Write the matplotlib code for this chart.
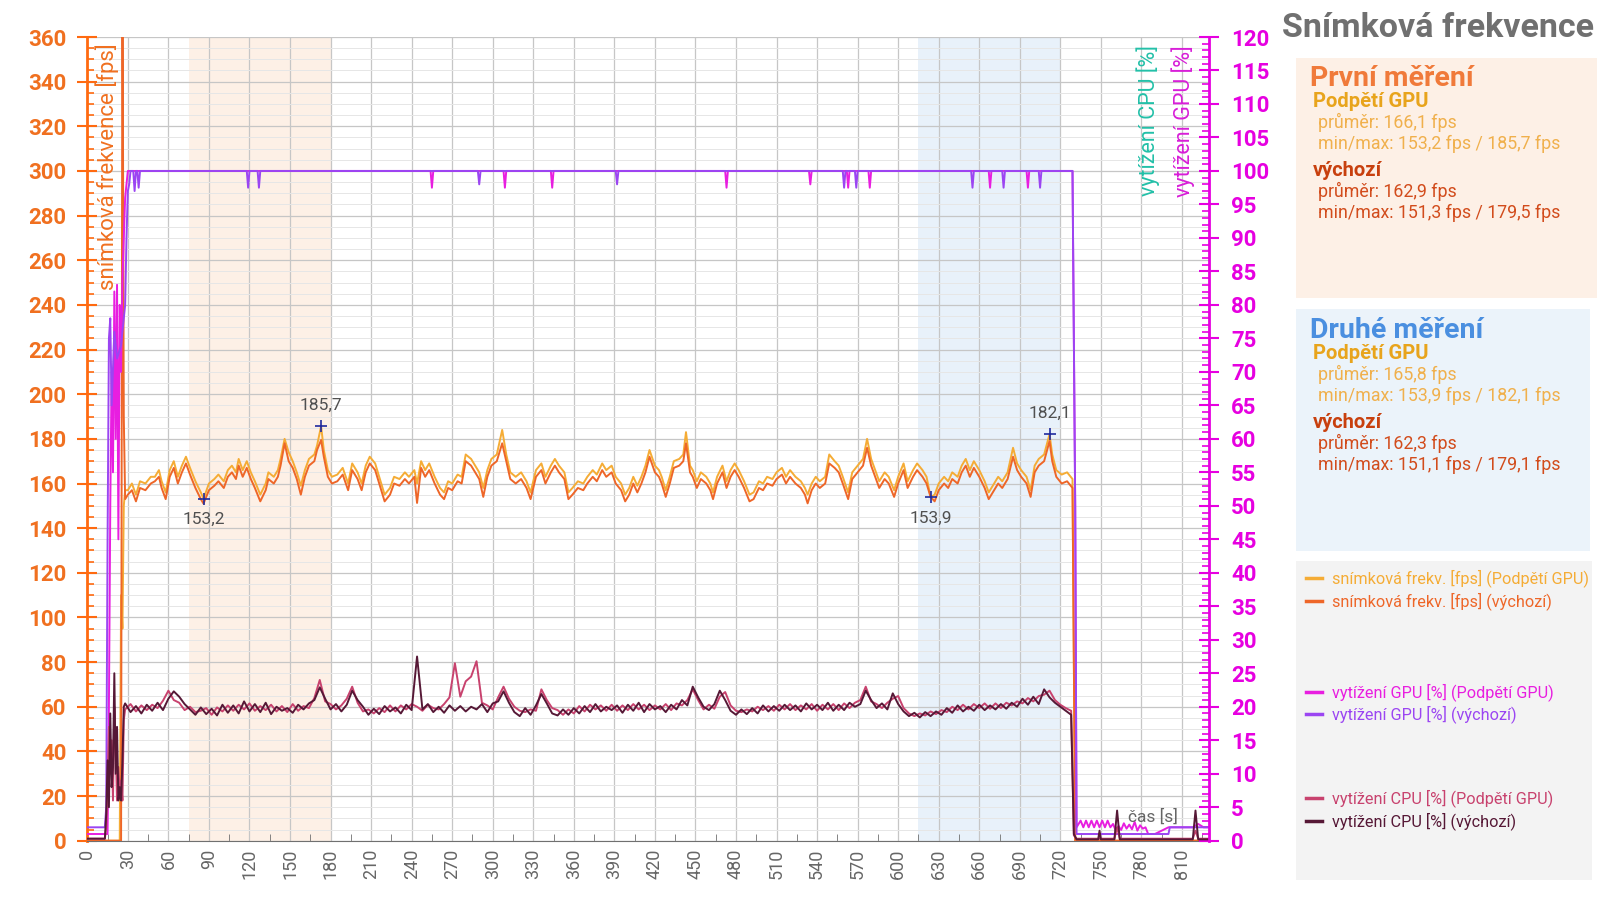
import matplotlib
matplotlib.use('Agg')
import matplotlib.pyplot as plt
import numpy as np
from matplotlib.patches import Rectangle
from matplotlib.lines import Line2D
from matplotlib.ticker import MultipleLocator

plt.rcParams['font.family'] = ['Roboto', 'DejaVu Sans']

W, H = 1600, 922

# --- frame rate [fps], time in seconds ---
t_fps = [0, 10, 20, 24, 25, 26, 27, 28,
         30, 33, 36, 39, 43, 47, 50, 53, 55, 58, 61, 64, 67, 70, 73, 76, 80, 84, 86, 90,
         94, 97, 101, 104, 107, 110, 112, 115, 118, 121, 124, 128, 132, 134, 138,
         141, 143, 146, 149, 152, 155, 158, 161, 164, 168, 170, 173, 175, 178, 181, 185,
         189, 193, 196, 200, 203, 206, 209, 213, 216, 220, 224, 227, 231, 235, 238,
         242, 244, 247, 250, 253, 257, 261, 264, 267, 270, 274, 277, 280, 284, 287,
         290, 293, 296, 299, 303, 307, 310, 313, 317, 321, 325, 328, 332, 336, 339,
         343, 346, 349, 353, 356, 359, 363, 367, 370,
         374, 377, 381, 384, 388, 391, 395, 398, 401, 404, 407, 410, 413, 416, 420,
         423, 425, 428, 431, 434, 438, 441, 443, 446, 448, 451, 454, 458, 461, 463,
         466, 470, 473, 476, 479, 482, 486, 490, 493, 497, 500, 503, 507, 510, 514,
         517, 520, 524, 528, 531, 533, 536, 539, 542, 546, 549, 553, 556,
         559, 563, 566, 570, 574, 577, 580, 583, 586, 590, 593, 597, 600, 604, 607,
         611, 614, 618, 621, 624, 627, 630, 634, 637, 640, 644, 647, 650, 653, 656,
         660, 664, 667, 671, 674, 677, 681, 685, 688, 691, 695, 698, 701, 704, 708,
         712, 714, 717, 721, 725, 729, 731, 740, 830]

fps_vychozi = [0, 0, 0, 0, 0, 400, 190, 153,
               155, 157, 152, 158, 157, 160, 161, 163, 158, 153, 163, 167, 160, 165, 169, 164, 158, 153, 151, 157,
               159, 161, 158, 163, 165, 162, 168, 163, 167, 162, 158, 152, 157, 162, 160,
               163, 168, 178, 170, 167, 162, 155, 163, 168, 170, 175, 179.5, 172, 163, 160, 161,
               164, 157, 166, 162, 157, 165, 169, 166, 160, 152, 155, 160, 159, 162, 160,
               163, 151.3, 167, 163, 166, 160, 155, 153, 158, 157, 161, 160, 170, 168, 165,
               162, 154, 163, 168, 170, 178, 170, 162, 160, 162, 158, 153, 163, 166, 160,
               165, 168, 165, 162, 153, 155, 158, 157, 160,
               163, 161, 166, 163, 165, 160, 157, 152, 155, 160, 156, 160, 165, 172, 165,
               163, 160, 154, 160, 167, 168, 170, 178, 165, 163, 158, 162, 160, 157, 153,
               160, 165, 158, 163, 166, 163, 158, 152, 153, 158, 157, 160, 159, 162, 164,
               160, 163, 160, 158, 155, 151.1, 157, 160, 158, 160, 169, 167, 165,
               160, 153, 162, 165, 168, 176, 168, 163, 158, 162, 160, 154, 160, 166, 158,
               163, 166, 163, 160, 154, 152, 157, 160, 158, 162, 160, 165, 168, 163, 167,
               163, 158, 153, 157, 160, 158, 162, 172, 166, 163, 160, 154, 165, 168, 170,
               179, 170, 163, 160, 161, 158, 0, 0, 0]

fps_podpeti = [0, 0, 0, 0, 110, 95, 150, 157,
               157, 160, 155, 161, 160, 163, 163, 166, 161, 156, 166, 170, 163, 168, 172, 167, 161, 156, 153.2, 160,
               162, 164, 161, 166, 168, 165, 171, 166, 170, 165, 161, 155, 160, 165, 163,
               166, 171, 180, 174, 170, 165, 159, 166, 171, 173, 177, 185.7, 175, 166, 163, 164,
               167, 160, 169, 165, 160, 168, 172, 169, 163, 155, 158, 163, 162, 165, 163,
               166, 160, 170, 166, 169, 163, 158, 156, 161, 160, 164, 163, 173, 171, 168,
               165, 158, 166, 171, 173, 184, 173, 165, 163, 165, 161, 156, 166, 169, 163,
               168, 171, 168, 165, 156, 158, 161, 160, 163,
               166, 164, 169, 166, 168, 163, 160, 155, 158, 163, 159, 163, 168, 175, 168,
               166, 163, 157, 163, 170, 171, 173, 183, 168, 166, 161, 165, 163, 160, 156,
               163, 168, 161, 166, 169, 166, 161, 155, 156, 161, 160, 163, 162, 165, 167,
               163, 166, 163, 161, 158, 155, 160, 163, 161, 163, 173, 170, 168,
               163, 156, 165, 168, 171, 180, 171, 166, 161, 165, 163, 157, 163, 169, 161,
               166, 169, 166, 163, 153.9, 155, 160, 163, 161, 165, 163, 168, 171, 166, 170,
               166, 161, 156, 160, 163, 161, 165, 176, 169, 166, 163, 157, 168, 171, 173,
               182.1, 173, 166, 164, 165, 162, 0, 0, 0]

# --- GPU load [%] ---
t_gpu_vychozi = [0, 13, 14, 15, 16, 17, 18, 20, 22, 25, 28, 29, 30, 31, 32, 34, 35, 36, 37, 38,
                 39, 118, 119, 120, 126, 127, 128, 289, 290, 291, 391, 392, 393, 559, 560,
                 561, 568, 569, 570, 654, 655, 656, 677, 678, 679, 704, 705, 706, 729, 731,
                 732, 800, 801, 830]
gpu_vychozi = [2, 2, 5, 45, 75, 78, 65, 76, 72, 74, 80, 90, 97, 98, 100, 100, 97, 100, 100, 97.5,
               100, 100, 97.5, 100, 100, 97.5, 100, 100, 98, 100, 100, 98, 100, 100, 97.5,
               100, 100, 97.5, 100, 100, 97.5, 100, 100, 97.5, 100, 100, 97.5, 100, 100, 50,
               1, 1, 2, 2]

t_gpu_podpeti = [0, 15, 16, 17, 18, 19, 20, 21, 22, 23, 24, 25, 26, 27, 28, 29, 30,
                 254, 255, 256, 308, 309, 310, 343, 344, 345, 472, 473, 474, 534, 535, 536,
                 562, 563, 564, 578, 579, 580, 667, 668, 669, 695, 696, 697, 729, 731, 732,
                 735, 737, 739, 741, 743, 745, 747, 749, 751, 753, 755, 757, 759, 761, 763,
                 765, 767, 769, 771, 773, 775, 777, 779, 781, 783, 785, 790, 800, 805, 812,
                 818, 822, 826, 830]
gpu_podpeti = [1, 1, 20, 50, 70, 55, 82, 60, 83, 45, 80, 70, 84, 90, 96, 98, 100,
               100, 97.5, 100, 100, 97.5, 100, 100, 97.5, 100, 100, 97.5, 100, 100, 98, 100,
               100, 97.5, 100, 100, 97.5, 100, 100, 97.5, 100, 100, 97.5, 100, 100, 50, 2,
               3, 2, 3, 2, 3, 2, 3, 2, 3, 2, 3, 2, 2.5, 1.5, 2.2,
               1.6, 2.6, 1.8, 2.4, 1.7, 2.8, 1.5, 2.3, 1.8, 2.0, 1.0, 1.0, 2.0, 2.0, 2.0,
               2.0, 2.5, 2.0, 2.0]

# --- CPU load [%] ---
t_cpu_head = [0, 13, 14, 15, 16, 17, 18, 19, 20, 21, 22, 23, 24, 25, 26, 27]
cpu_vychozi_head = [0.3, 0.3, 4, 12, 5, 19, 8, 11, 25, 10, 17, 6, 8, 6, 12, 20]
cpu_podpeti_head = [0.3, 0.3, 2, 8, 17, 10, 15, 6, 20, 14, 6, 11, 7, 9, 6, 18]

t_cpu_run = np.arange(28, 729, 4)  # one reading every 4 s
cpu_vychozi_run = [
    20.5, 19.2, 20.1, 19.0, 20.3, 19.4, 20.6, 19.5, 21.2, 22.3,
    21.5, 20.4, 19.6, 18.8, 19.9, 18.9, 19.7, 18.7, 20.3, 19.1,
    20.2, 19.0, 20.8, 19.3, 20.4, 19.2, 20.6, 18.9, 20.0, 19.4,
    19.8, 19.1, 20.3, 19.6, 20.5, 21.0, 22.9, 21.2, 19.6, 20.4,
    19.3, 20.3, 22.4, 21.0, 20.0, 18.8, 19.7, 18.9, 20.1, 19.3,
    19.9, 19.0, 20.3, 19.5, 27.5, 19.6, 20.4, 19.2, 20.0, 19.1,
    20.2, 19.4, 20.1, 19.3, 20.0, 19.6, 20.4, 19.2, 20.5, 20.8,
    22.3, 20.6, 19.2, 18.6, 19.8, 18.8, 20.2, 21.9, 20.5, 19.0,
    18.7, 19.6, 18.8, 19.8, 19.0, 20.1, 19.2, 20.4, 19.3, 20.0,
    19.5, 20.2, 19.1, 20.3, 19.4, 20.6, 19.2, 20.4, 19.6, 20.1,
    19.2, 20.3, 19.6, 21.0, 20.2, 23.0, 21.4, 20.0, 19.5, 20.4,
    22.4, 21.0, 19.4, 18.8, 19.6, 18.9, 19.8, 19.0, 20.2, 19.3,
    20.1, 19.4, 20.3, 19.5, 20.2, 19.3, 20.5, 19.6, 20.3, 19.5,
    20.6, 19.4, 20.3, 19.5, 20.6, 20.0, 20.4, 22.4, 21.0, 19.8,
    20.5, 19.6, 22.0, 20.4, 19.3, 18.6, 19.1, 18.4, 19.2, 18.6,
    19.3, 18.8, 19.8, 19.1, 20.2, 19.3, 20.0, 19.4, 20.3, 19.5,
    20.2, 19.6, 20.4, 19.7, 20.6, 20.0, 21.2, 20.3, 21.5, 20.4,
    22.6, 21.4, 20.6, 20.0, 19.4, 18.8]
cpu_podpeti_run = [
    19.6, 20.4, 19.3, 20.2, 19.5, 20.3, 19.8, 20.9, 22.4, 21.0,
    20.6, 19.5, 20.0, 19.2, 19.4, 19.8, 18.8, 19.9, 19.3, 20.2,
    19.4, 20.3, 19.6, 20.5, 19.4, 20.1, 19.5, 20.3, 19.3, 20.1,
    19.2, 20.4, 19.4, 20.1, 19.8, 21.3, 24.0, 20.8, 20.4, 19.6,
    20.2, 21.2, 23.0, 20.6, 19.3, 19.6, 19.0, 19.8, 19.2, 20.2,
    19.3, 20.2, 19.6, 20.4, 20.0, 19.4, 20.3, 19.8, 19.6, 20.4,
    21.4, 26.5, 21.5, 23.8, 24.5, 26.8, 20.6, 20.2, 19.6, 21.4,
    23.0, 21.2, 20.0, 19.4, 19.2, 19.6, 19.4, 22.6, 21.0, 19.8,
    19.5, 18.8, 19.6, 19.0, 20.1, 19.3, 20.3, 19.6, 20.2, 19.4,
    20.3, 19.4, 20.2, 19.5, 20.4, 19.6, 20.3, 19.5, 20.2, 19.6,
    20.4, 19.5, 20.5, 20.2, 21.0, 22.6, 21.0, 19.6, 20.3, 19.7,
    21.5, 22.2, 20.2, 19.4, 19.2, 19.6, 19.3, 20.0, 19.5, 20.1,
    19.4, 20.3, 19.6, 20.4, 19.5, 20.2, 19.6, 20.4, 19.4, 20.3,
    19.6, 20.4, 19.5, 20.5, 19.8, 20.6, 21.0, 23.0, 20.8, 20.4,
    19.8, 20.6, 21.2, 21.6, 19.8, 19.0, 18.6, 19.0, 18.7, 19.3,
    18.9, 19.5, 19.2, 20.0, 19.5, 20.3, 19.6, 20.4, 19.8, 20.5,
    19.7, 20.5, 19.8, 20.6, 20.2, 20.8, 20.5, 21.3, 20.8, 21.6,
    21.8, 22.4, 21.0, 20.3, 19.8, 19.4]

t_cpu_tail = [730, 732, 748, 749, 750, 760, 762, 764, 818, 820, 822, 830]
cpu_vychozi_tail = [1.0, 0.2, 0.2, 1.5, 0.2, 0.2, 4.5, 0.2, 0.2, 4.5, 0.2, 0.2]
cpu_podpeti_tail = [0.8, 0.3, 0.3, 0.3, 0.3, 0.3, 2.0, 0.3, 0.3, 1.5, 0.3, 0.3]

# min / max marks (time, fps, label)
marks = [(86, 153.2, '153,2', -1), (173, 185.7, '185,7', 1),
         (624, 153.9, '153,9', -1), (712, 182.1, '182,1', 1)]

C_FPS_P = '#f5ac35'
C_FPS_V = '#ee6628'
C_GPU_P = '#e81ee0'
C_GPU_V = '#9b45f2'
C_CPU_P = '#c8426e'
C_CPU_V = '#561836'
C_LEFT = '#ff6a10'
C_RIGHT = '#e600e0'


def px(x, y):
    return x / W, 1 - y / H


def main():
    fig = plt.figure(figsize=(16, 9.22), dpi=100)
    x0, x1, y0, y1 = 87.3, 1209, 37, 840.7
    ax = fig.add_axes([x0 / W, 1 - y1 / H, (x1 - x0) / W, (y1 - y0) / H])
    ax2 = ax.twinx()

    ax.axvspan(75, 180, color='#fdf0e6', zorder=0, lw=0)
    ax.axvspan(615, 720, color='#e8f1fa', zorder=0, lw=0)

    ax.set_xlim(0, 830)
    ax.set_ylim(0, 360)
    ax2.set_ylim(0, 120)

    ax.set_axisbelow(True)
    ax.xaxis.set_major_locator(MultipleLocator(30))
    ax.xaxis.set_minor_locator(MultipleLocator(15))
    ax.yaxis.set_major_locator(MultipleLocator(20))
    ax.yaxis.set_minor_locator(MultipleLocator(5))
    ax.grid(which='major', axis='both', color='#c6c6c6', lw=0.9)
    ax.grid(which='minor', axis='y', color='#e6e6e6', lw=0.7)
    ax.set_xticks(np.arange(0, 811, 30))

    # fps
    ax.plot(t_fps, fps_podpeti, color=C_FPS_P, lw=1.4, zorder=3)
    ax.plot(t_fps, fps_vychozi, color=C_FPS_V, lw=1.4, zorder=3)

    # load
    t_cpu = np.concatenate([t_cpu_head, t_cpu_run, t_cpu_tail])
    cpu_v = np.concatenate([cpu_vychozi_head, cpu_vychozi_run, cpu_vychozi_tail])
    cpu_p = np.concatenate([cpu_podpeti_head, cpu_podpeti_run, cpu_podpeti_tail])
    ax2.plot(t_gpu_podpeti, gpu_podpeti, color=C_GPU_P, lw=1.4)
    ax2.plot(t_gpu_vychozi, gpu_vychozi, color=C_GPU_V, lw=1.4)
    ax2.plot(t_cpu, cpu_p, color=C_CPU_P, lw=1.4)
    ax2.plot(t_cpu, cpu_v, color=C_CPU_V, lw=1.4)

    for t, v, lab, side in marks:
        ax.plot(t, v, marker='+', color='#1f2a9e', ms=9, mew=1.2, zorder=5)
        ax.annotate(lab, (t, v), xytext=(0, 21 * side), textcoords='offset pixels',
                    ha='center', va='center', fontsize=12.5, color='#505050', zorder=6)

    # spines & ticks
    for s in ['top', 'right']:
        ax.spines[s].set_visible(False)
    for s in ['top', 'left', 'bottom']:
        ax2.spines[s].set_visible(False)
    ax.spines['left'].set_color(C_LEFT)
    ax.spines['left'].set_linewidth(2)
    ax.spines['bottom'].set_color('#707070')
    ax2.spines['right'].set_color(C_RIGHT)
    ax2.spines['right'].set_linewidth(2)

    ax.tick_params(axis='y', which='major', direction='inout', length=14, width=1.5,
                   color=C_LEFT, labelcolor='#f07020', labelsize=16, pad=8)
    ax.tick_params(axis='y', which='minor', direction='in', length=5, width=1.2, color=C_LEFT)
    for lab in ax.get_yticklabels():
        lab.set_fontweight('bold')
    ax.tick_params(axis='x', which='major', direction='in', length=0,
                   labelcolor='#666666', labelsize=13, labelrotation=90, pad=6)
    ax.tick_params(axis='x', which='minor', direction='in', length=5, color='#707070')

    ax2.yaxis.set_major_locator(MultipleLocator(5))
    ax2.yaxis.set_minor_locator(MultipleLocator(1))
    ax2.tick_params(axis='y', which='major', direction='inout', length=14, width=1.5,
                    color=C_RIGHT, labelcolor=C_RIGHT, labelsize=16, pad=9)
    ax2.tick_params(axis='y', which='minor', direction='in', length=5, width=1.2, color=C_RIGHT)
    for lab in ax2.get_yticklabels():
        lab.set_fontweight('bold')

    # axis titles inside the plot
    fig.text(*px(107, 43), 'snímková frekvence [fps]', rotation=90, ha='center', va='top',
             color='#f07020', fontsize=16)
    fig.text(*px(1148, 45), 'vytížení CPU [%]', rotation=90, ha='center', va='top',
             color='#22c0a8', fontsize=15.5)
    fig.text(*px(1183, 45), 'vytížení GPU [%]', rotation=90, ha='center', va='top',
             color='#d81ed8', fontsize=15.5)
    fig.text(*px(1153, 817), 'čas [s]', ha='center', va='center', color='#666666', fontsize=12.5)

    # title
    fig.text(*px(1594, 28), 'Snímková frekvence', ha='right', va='center',
             color='#707070', fontsize=24.5, fontweight='bold')

    # info panels
    fig.add_artist(Rectangle(px(1296, 298), 301 / W, 240 / H, transform=fig.transFigure,
                             facecolor='#fdf0e6', edgecolor='none'))
    fig.add_artist(Rectangle(px(1296, 551), 294 / W, 242 / H, transform=fig.transFigure,
                             facecolor='#ebf3fa', edgecolor='none'))
    fig.add_artist(Rectangle(px(1296, 880), 296 / W, 319 / H, transform=fig.transFigure,
                             facecolor='#f3f3f3', edgecolor='none'))

    blocks = [(86, 'První měření', '#f07a3a', ['166,1', '153,2', '185,7', '162,9', '151,3', '179,5']),
              (338, 'Druhé měření', '#4a8fe0', ['165,8', '153,9', '182,1', '162,3', '151,1', '179,1'])]
    for y, head, col, v in blocks:
        fig.text(*px(1310, y), head, color=col, fontsize=20.5, fontweight='bold', va='baseline')
        fig.text(*px(1313, y + 21), 'Podpětí GPU', color='#e8a41c', fontsize=14.5,
                 fontweight='bold', va='baseline')
        fig.text(*px(1318, y + 42), f'průměr: {v[0]} fps', color='#f0b04c', fontsize=12.8,
                 va='baseline')
        fig.text(*px(1318, y + 63), f'min/max: {v[1]} fps / {v[2]} fps', color='#f0b04c',
                 fontsize=12.8, va='baseline')
        fig.text(*px(1313, y + 90), 'výchozí', color='#c8400e', fontsize=14.5,
                 fontweight='bold', va='baseline')
        fig.text(*px(1318, y + 111), f'průměr: {v[3]} fps', color='#d24c1c', fontsize=12.8,
                 va='baseline')
        fig.text(*px(1318, y + 132), f'min/max: {v[4]} fps / {v[5]} fps', color='#d24c1c',
                 fontsize=12.8, va='baseline')

    legend_rows = [(578, 'snímková frekv. [fps] (Podpětí GPU)', C_FPS_P),
                   (601, 'snímková frekv. [fps] (výchozí)', C_FPS_V),
                   (692, 'vytížení GPU [%] (Podpětí GPU)', C_GPU_P),
                   (714, 'vytížení GPU [%] (výchozí)', C_GPU_V),
                   (798, 'vytížení CPU [%] (Podpětí GPU)', C_CPU_P),
                   (821, 'vytížení CPU [%] (výchozí)', C_CPU_V)]
    for y, label, col in legend_rows:
        (xa, ya), (xb, _) = px(1306, y), px(1322, y)
        fig.add_artist(Line2D([xa, xb], [ya, ya], color=col, lw=2.5, transform=fig.transFigure))
        fig.text(*px(1332, y), label, color=col, fontsize=11.7, va='center')

    fig.savefig('out.png', dpi=100)


if __name__ == "__main__":
    main()
